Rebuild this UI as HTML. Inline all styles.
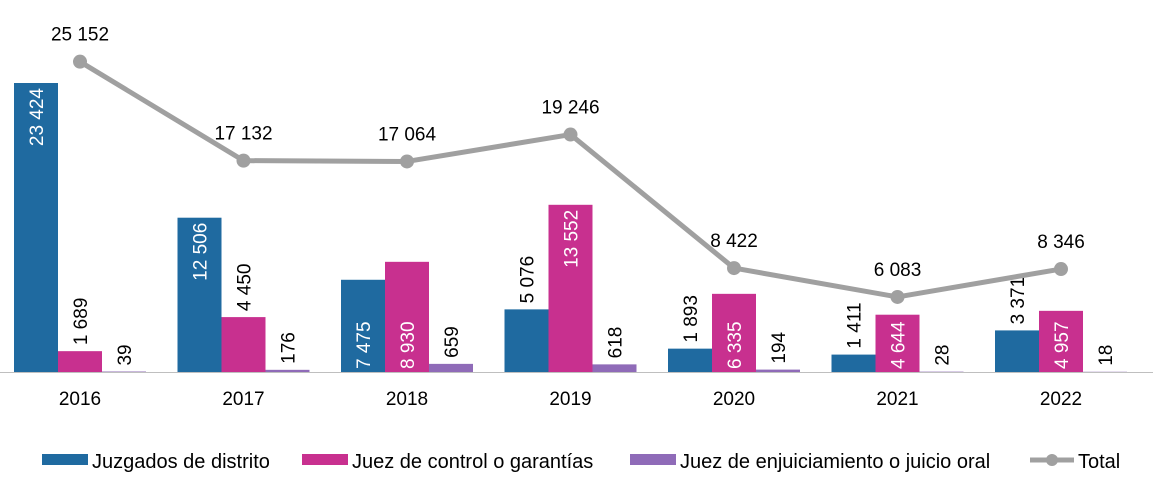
<!DOCTYPE html>
<html><head><meta charset="utf-8"><style>
body{margin:0;background:#fff;font-family:"Liberation Sans",sans-serif}
</style></head><body>
<svg id="c" width="1153" height="473" xmlns="http://www.w3.org/2000/svg" font-family="Liberation Sans, sans-serif"></svg>
<script>
const years=["2016","2017","2018","2019","2020","2021","2022"];
const distrito=[23424,12506,7475,5076,1893,1411,3371];
const control=[1689,4450,8930,13552,6335,4644,4957];
const enjuic=[39,176,659,618,194,28,18];
const total=[25152,17132,17064,19246,8422,6083,8346];
const fmt=v=>String(v).replace(/\B(?=(\d{3})+(?!\d))/g,' ');
const svg=document.getElementById('c');const NS='http://www.w3.org/2000/svg';
function mk(t,a,p){const e=document.createElementNS(NS,t);for(const k in a)e.setAttribute(k,a[k]);(p||svg).appendChild(e);return e;}
const base=372,k=289/23424;
const y=v=>base-v*k;
const cx=i=>80+i*163.5;
const bw=44;
const ax=mk('line',{x1:0,x2:1153,y1:base+0.5,y2:base+0.5,stroke:'#bfbfbf','stroke-width':1});


const series=[[distrito,'#1f6aa0'],[control,'#c8308f'],[enjuic,'#8f6bb8']];
series.forEach(([vals,col],s)=>{
 vals.forEach((v,i)=>{
  const x0=cx(i)-66+s*bw;
  const r=mk('rect',{x:x0,y:y(v),width:bw,height:base-y(v),fill:col});
  
  
  const h=base-y(v);const tx=x0+bw/2+7;
  let ty,anchor,fill;
  const inside=(s===1&&v>=4600)||(s===0&&v>=7000);
  if(h>150){ty=y(v)+5;anchor='end';fill='#fff';}
  else if(inside){ty=base-3;anchor='start';fill='#fff';}
  else{ty=y(v)-6;anchor='start';fill='#000';}
  const t=mk('text',{x:tx,y:ty,transform:`rotate(-90 ${tx} ${ty})`,'text-anchor':anchor,'font-size':19,fill:fill});
  t.textContent=fmt(v);
  
  
 });
});
const pts=total.map((v,i)=>cx(i)+','+y(v)).join(' ');
const pl=mk('polyline',{points:pts,fill:'none',stroke:'#a0a0a0','stroke-width':5,'stroke-linejoin':'round'});


total.forEach((v,i)=>{
 const c=mk('circle',{cx:cx(i),cy:y(v),r:7,fill:'#a0a0a0'});
 
 
 const t=mk('text',{x:cx(i),y:y(v)-21,'text-anchor':'middle','font-size':19});
 t.textContent=fmt(v);
 
 
 const yl=mk('text',{x:cx(i),y:405,'text-anchor':'middle','font-size':19});
 yl.textContent=years[i];
 
 
});
const leg=[['Juzgados de distrito','#1f6aa0',42],['Juez de control o garantías','#c8308f',302],['Juez de enjuiciamiento o juicio oral','#8f6bb8',630]];
leg.forEach(([n,c,x])=>{
 const g=mk('g',{});
 
 
 mk('rect',{x:x,y:454,width:46,height:11,fill:c},g);
 const t=mk('text',{x:x+50,y:468,'font-size':20},g);t.textContent=n;
});
const g=mk('g',{});


mk('line',{x1:1030,x2:1074,y1:460,y2:460,stroke:'#a0a0a0','stroke-width':5},g);
mk('circle',{cx:1052,cy:460,r:6,fill:'#a0a0a0'},g);
const tt=mk('text',{x:1078,y:468,'font-size':20},g);tt.textContent='Total';
</script>
</body></html>
